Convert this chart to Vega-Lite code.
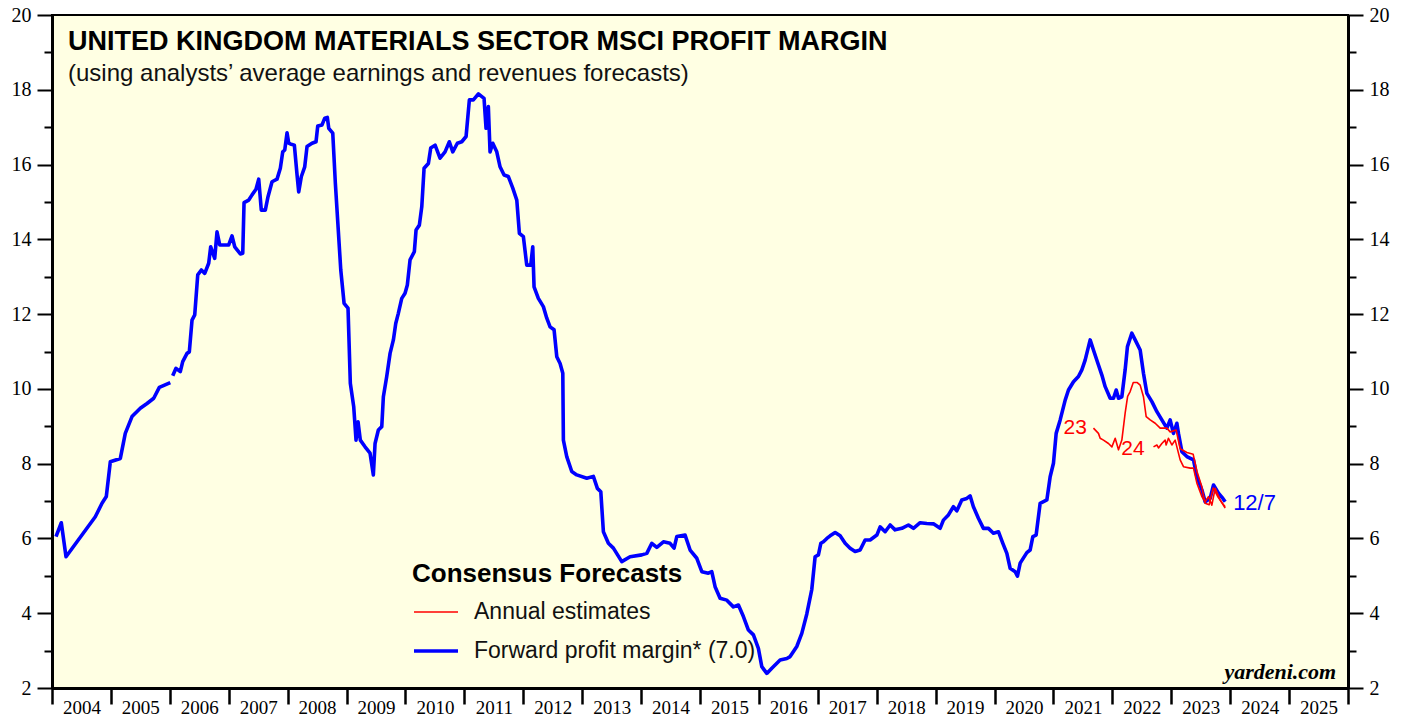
{
  "$schema": "https://vega.github.io/schema/vega-lite/v6.json",
  "width": 1296,
  "height": 673,
  "autosize": {"type": "none"},
  "padding": {"left": 52, "top": 15, "right": 59, "bottom": 29},
  "background": "white",
  "config": {
    "view": {"fill": "#FFFFE3", "stroke": "#000000", "strokeWidth": 2},
    "axis": {"grid": false, "domainColor": "#000000", "domainWidth": 3, "tickColor": "#000000", "tickWidth": 2, "labelColor": "#000000", "labelFont": "Liberation Serif", "labelFontSize": 20, "labelFlush": false, "labelOverlap": false, "labelBound": false, "title": null}
  },
  "title": {
    "text": "UNITED KINGDOM MATERIALS SECTOR MSCI PROFIT MARGIN",
    "subtitle": "(using analysts’ average earnings and revenues forecasts)",
    "anchor": "start", "frame": "group", "orient": "top", "offset": -82, "dx": 16,
    "font": "Liberation Sans", "fontSize": 27, "fontWeight": "bold", "color": "#000000",
    "subtitleFont": "Liberation Sans", "subtitleFontSize": 24, "subtitleColor": "#111111", "subtitlePadding": 6
  },
  "datasets": {
    "lines": [
      {"t": 2004.068, "v": 6.05, "series": "Forward profit margin* (7.0)", "line": "fwd"},
      {"t": 2004.158, "v": 6.42, "series": "Forward profit margin* (7.0)", "line": "fwd"},
      {"t": 2004.238, "v": 5.51, "series": "Forward profit margin* (7.0)", "line": "fwd"},
      {"t": 2004.735, "v": 6.58, "series": "Forward profit margin* (7.0)", "line": "fwd"},
      {"t": 2004.849, "v": 6.94, "series": "Forward profit margin* (7.0)", "line": "fwd"},
      {"t": 2004.922, "v": 7.12, "series": "Forward profit margin* (7.0)", "line": "fwd"},
      {"t": 2004.990, "v": 8.05, "series": "Forward profit margin* (7.0)", "line": "fwd"},
      {"t": 2005.160, "v": 8.14, "series": "Forward profit margin* (7.0)", "line": "fwd"},
      {"t": 2005.244, "v": 8.81, "series": "Forward profit margin* (7.0)", "line": "fwd"},
      {"t": 2005.358, "v": 9.26, "series": "Forward profit margin* (7.0)", "line": "fwd"},
      {"t": 2005.499, "v": 9.48, "series": "Forward profit margin* (7.0)", "line": "fwd"},
      {"t": 2005.613, "v": 9.61, "series": "Forward profit margin* (7.0)", "line": "fwd"},
      {"t": 2005.727, "v": 9.75, "series": "Forward profit margin* (7.0)", "line": "fwd"},
      {"t": 2005.822, "v": 10.04, "series": "Forward profit margin* (7.0)", "line": "fwd"},
      {"t": 2006.008, "v": 10.17, "series": "Forward profit margin* (7.0)", "line": "fwd"},
      {"t": 2006.030, "v": null, "series": "Forward profit margin* (7.0)", "line": "fwd"},
      {"t": 2006.049, "v": 10.35, "series": "Forward profit margin* (7.0)", "line": "fwd"},
      {"t": 2006.105, "v": 10.55, "series": "Forward profit margin* (7.0)", "line": "fwd"},
      {"t": 2006.178, "v": 10.46, "series": "Forward profit margin* (7.0)", "line": "fwd"},
      {"t": 2006.219, "v": 10.73, "series": "Forward profit margin* (7.0)", "line": "fwd"},
      {"t": 2006.292, "v": 10.95, "series": "Forward profit margin* (7.0)", "line": "fwd"},
      {"t": 2006.331, "v": 10.99, "series": "Forward profit margin* (7.0)", "line": "fwd"},
      {"t": 2006.377, "v": 11.84, "series": "Forward profit margin* (7.0)", "line": "fwd"},
      {"t": 2006.423, "v": 11.98, "series": "Forward profit margin* (7.0)", "line": "fwd"},
      {"t": 2006.474, "v": 13.05, "series": "Forward profit margin* (7.0)", "line": "fwd"},
      {"t": 2006.535, "v": 13.18, "series": "Forward profit margin* (7.0)", "line": "fwd"},
      {"t": 2006.593, "v": 13.09, "series": "Forward profit margin* (7.0)", "line": "fwd"},
      {"t": 2006.660, "v": 13.36, "series": "Forward profit margin* (7.0)", "line": "fwd"},
      {"t": 2006.694, "v": 13.80, "series": "Forward profit margin* (7.0)", "line": "fwd"},
      {"t": 2006.762, "v": 13.49, "series": "Forward profit margin* (7.0)", "line": "fwd"},
      {"t": 2006.801, "v": 14.20, "series": "Forward profit margin* (7.0)", "line": "fwd"},
      {"t": 2006.847, "v": 13.85, "series": "Forward profit margin* (7.0)", "line": "fwd"},
      {"t": 2007.000, "v": 13.85, "series": "Forward profit margin* (7.0)", "line": "fwd"},
      {"t": 2007.056, "v": 14.09, "series": "Forward profit margin* (7.0)", "line": "fwd"},
      {"t": 2007.102, "v": 13.80, "series": "Forward profit margin* (7.0)", "line": "fwd"},
      {"t": 2007.197, "v": 13.61, "series": "Forward profit margin* (7.0)", "line": "fwd"},
      {"t": 2007.238, "v": 13.63, "series": "Forward profit margin* (7.0)", "line": "fwd"},
      {"t": 2007.260, "v": 14.98, "series": "Forward profit margin* (7.0)", "line": "fwd"},
      {"t": 2007.340, "v": 15.05, "series": "Forward profit margin* (7.0)", "line": "fwd"},
      {"t": 2007.396, "v": 15.19, "series": "Forward profit margin* (7.0)", "line": "fwd"},
      {"t": 2007.463, "v": 15.34, "series": "Forward profit margin* (7.0)", "line": "fwd"},
      {"t": 2007.509, "v": 15.61, "series": "Forward profit margin* (7.0)", "line": "fwd"},
      {"t": 2007.553, "v": 14.78, "series": "Forward profit margin* (7.0)", "line": "fwd"},
      {"t": 2007.621, "v": 14.78, "series": "Forward profit margin* (7.0)", "line": "fwd"},
      {"t": 2007.667, "v": 15.14, "series": "Forward profit margin* (7.0)", "line": "fwd"},
      {"t": 2007.735, "v": 15.54, "series": "Forward profit margin* (7.0)", "line": "fwd"},
      {"t": 2007.820, "v": 15.61, "series": "Forward profit margin* (7.0)", "line": "fwd"},
      {"t": 2007.876, "v": 15.90, "series": "Forward profit margin* (7.0)", "line": "fwd"},
      {"t": 2007.917, "v": 16.34, "series": "Forward profit margin* (7.0)", "line": "fwd"},
      {"t": 2007.951, "v": 16.39, "series": "Forward profit margin* (7.0)", "line": "fwd"},
      {"t": 2007.990, "v": 16.85, "series": "Forward profit margin* (7.0)", "line": "fwd"},
      {"t": 2008.019, "v": 16.57, "series": "Forward profit margin* (7.0)", "line": "fwd"},
      {"t": 2008.046, "v": 16.55, "series": "Forward profit margin* (7.0)", "line": "fwd"},
      {"t": 2008.114, "v": 16.52, "series": "Forward profit margin* (7.0)", "line": "fwd"},
      {"t": 2008.160, "v": 15.72, "series": "Forward profit margin* (7.0)", "line": "fwd"},
      {"t": 2008.188, "v": 15.27, "series": "Forward profit margin* (7.0)", "line": "fwd"},
      {"t": 2008.233, "v": 15.68, "series": "Forward profit margin* (7.0)", "line": "fwd"},
      {"t": 2008.290, "v": 15.94, "series": "Forward profit margin* (7.0)", "line": "fwd"},
      {"t": 2008.329, "v": 16.48, "series": "Forward profit margin* (7.0)", "line": "fwd"},
      {"t": 2008.414, "v": 16.57, "series": "Forward profit margin* (7.0)", "line": "fwd"},
      {"t": 2008.482, "v": 16.61, "series": "Forward profit margin* (7.0)", "line": "fwd"},
      {"t": 2008.511, "v": 17.03, "series": "Forward profit margin* (7.0)", "line": "fwd"},
      {"t": 2008.584, "v": 17.06, "series": "Forward profit margin* (7.0)", "line": "fwd"},
      {"t": 2008.630, "v": 17.24, "series": "Forward profit margin* (7.0)", "line": "fwd"},
      {"t": 2008.674, "v": 17.26, "series": "Forward profit margin* (7.0)", "line": "fwd"},
      {"t": 2008.698, "v": 16.97, "series": "Forward profit margin* (7.0)", "line": "fwd"},
      {"t": 2008.766, "v": 16.84, "series": "Forward profit margin* (7.0)", "line": "fwd"},
      {"t": 2008.810, "v": 15.50, "series": "Forward profit margin* (7.0)", "line": "fwd"},
      {"t": 2008.856, "v": 14.34, "series": "Forward profit margin* (7.0)", "line": "fwd"},
      {"t": 2008.902, "v": 13.18, "series": "Forward profit margin* (7.0)", "line": "fwd"},
      {"t": 2008.958, "v": 12.29, "series": "Forward profit margin* (7.0)", "line": "fwd"},
      {"t": 2009.025, "v": 12.16, "series": "Forward profit margin* (7.0)", "line": "fwd"},
      {"t": 2009.064, "v": 10.15, "series": "Forward profit margin* (7.0)", "line": "fwd"},
      {"t": 2009.122, "v": 9.52, "series": "Forward profit margin* (7.0)", "line": "fwd"},
      {"t": 2009.161, "v": 8.63, "series": "Forward profit margin* (7.0)", "line": "fwd"},
      {"t": 2009.195, "v": 9.12, "series": "Forward profit margin* (7.0)", "line": "fwd"},
      {"t": 2009.234, "v": 8.63, "series": "Forward profit margin* (7.0)", "line": "fwd"},
      {"t": 2009.314, "v": 8.45, "series": "Forward profit margin* (7.0)", "line": "fwd"},
      {"t": 2009.399, "v": 8.28, "series": "Forward profit margin* (7.0)", "line": "fwd"},
      {"t": 2009.455, "v": 7.70, "series": "Forward profit margin* (7.0)", "line": "fwd"},
      {"t": 2009.484, "v": 8.54, "series": "Forward profit margin* (7.0)", "line": "fwd"},
      {"t": 2009.540, "v": 8.90, "series": "Forward profit margin* (7.0)", "line": "fwd"},
      {"t": 2009.598, "v": 8.99, "series": "Forward profit margin* (7.0)", "line": "fwd"},
      {"t": 2009.625, "v": 9.79, "series": "Forward profit margin* (7.0)", "line": "fwd"},
      {"t": 2009.682, "v": 10.33, "series": "Forward profit margin* (7.0)", "line": "fwd"},
      {"t": 2009.739, "v": 10.95, "series": "Forward profit margin* (7.0)", "line": "fwd"},
      {"t": 2009.795, "v": 11.31, "series": "Forward profit margin* (7.0)", "line": "fwd"},
      {"t": 2009.835, "v": 11.75, "series": "Forward profit margin* (7.0)", "line": "fwd"},
      {"t": 2009.879, "v": 12.02, "series": "Forward profit margin* (7.0)", "line": "fwd"},
      {"t": 2009.937, "v": 12.42, "series": "Forward profit margin* (7.0)", "line": "fwd"},
      {"t": 2009.993, "v": 12.56, "series": "Forward profit margin* (7.0)", "line": "fwd"},
      {"t": 2010.032, "v": 12.78, "series": "Forward profit margin* (7.0)", "line": "fwd"},
      {"t": 2010.078, "v": 13.45, "series": "Forward profit margin* (7.0)", "line": "fwd"},
      {"t": 2010.151, "v": 13.67, "series": "Forward profit margin* (7.0)", "line": "fwd"},
      {"t": 2010.180, "v": 14.25, "series": "Forward profit margin* (7.0)", "line": "fwd"},
      {"t": 2010.236, "v": 14.38, "series": "Forward profit margin* (7.0)", "line": "fwd"},
      {"t": 2010.277, "v": 14.87, "series": "Forward profit margin* (7.0)", "line": "fwd"},
      {"t": 2010.316, "v": 15.90, "series": "Forward profit margin* (7.0)", "line": "fwd"},
      {"t": 2010.389, "v": 16.03, "series": "Forward profit margin* (7.0)", "line": "fwd"},
      {"t": 2010.429, "v": 16.44, "series": "Forward profit margin* (7.0)", "line": "fwd"},
      {"t": 2010.503, "v": 16.52, "series": "Forward profit margin* (7.0)", "line": "fwd"},
      {"t": 2010.587, "v": 16.17, "series": "Forward profit margin* (7.0)", "line": "fwd"},
      {"t": 2010.672, "v": 16.34, "series": "Forward profit margin* (7.0)", "line": "fwd"},
      {"t": 2010.745, "v": 16.61, "series": "Forward profit margin* (7.0)", "line": "fwd"},
      {"t": 2010.803, "v": 16.34, "series": "Forward profit margin* (7.0)", "line": "fwd"},
      {"t": 2010.881, "v": 16.57, "series": "Forward profit margin* (7.0)", "line": "fwd"},
      {"t": 2010.956, "v": 16.61, "series": "Forward profit margin* (7.0)", "line": "fwd"},
      {"t": 2011.029, "v": 16.75, "series": "Forward profit margin* (7.0)", "line": "fwd"},
      {"t": 2011.085, "v": 17.73, "series": "Forward profit margin* (7.0)", "line": "fwd"},
      {"t": 2011.153, "v": 17.73, "series": "Forward profit margin* (7.0)", "line": "fwd"},
      {"t": 2011.238, "v": 17.89, "series": "Forward profit margin* (7.0)", "line": "fwd"},
      {"t": 2011.334, "v": 17.77, "series": "Forward profit margin* (7.0)", "line": "fwd"},
      {"t": 2011.368, "v": 16.97, "series": "Forward profit margin* (7.0)", "line": "fwd"},
      {"t": 2011.407, "v": 17.55, "series": "Forward profit margin* (7.0)", "line": "fwd"},
      {"t": 2011.436, "v": 16.34, "series": "Forward profit margin* (7.0)", "line": "fwd"},
      {"t": 2011.482, "v": 16.57, "series": "Forward profit margin* (7.0)", "line": "fwd"},
      {"t": 2011.550, "v": 16.34, "series": "Forward profit margin* (7.0)", "line": "fwd"},
      {"t": 2011.606, "v": 15.94, "series": "Forward profit margin* (7.0)", "line": "fwd"},
      {"t": 2011.674, "v": 15.72, "series": "Forward profit margin* (7.0)", "line": "fwd"},
      {"t": 2011.747, "v": 15.68, "series": "Forward profit margin* (7.0)", "line": "fwd"},
      {"t": 2011.822, "v": 15.37, "series": "Forward profit margin* (7.0)", "line": "fwd"},
      {"t": 2011.890, "v": 15.05, "series": "Forward profit margin* (7.0)", "line": "fwd"},
      {"t": 2011.934, "v": 14.16, "series": "Forward profit margin* (7.0)", "line": "fwd"},
      {"t": 2012.002, "v": 14.07, "series": "Forward profit margin* (7.0)", "line": "fwd"},
      {"t": 2012.059, "v": 13.31, "series": "Forward profit margin* (7.0)", "line": "fwd"},
      {"t": 2012.127, "v": 13.31, "series": "Forward profit margin* (7.0)", "line": "fwd"},
      {"t": 2012.161, "v": 13.80, "series": "Forward profit margin* (7.0)", "line": "fwd"},
      {"t": 2012.183, "v": 12.73, "series": "Forward profit margin* (7.0)", "line": "fwd"},
      {"t": 2012.256, "v": 12.42, "series": "Forward profit margin* (7.0)", "line": "fwd"},
      {"t": 2012.341, "v": 12.20, "series": "Forward profit margin* (7.0)", "line": "fwd"},
      {"t": 2012.399, "v": 11.89, "series": "Forward profit margin* (7.0)", "line": "fwd"},
      {"t": 2012.455, "v": 11.66, "series": "Forward profit margin* (7.0)", "line": "fwd"},
      {"t": 2012.523, "v": 11.58, "series": "Forward profit margin* (7.0)", "line": "fwd"},
      {"t": 2012.569, "v": 10.86, "series": "Forward profit margin* (7.0)", "line": "fwd"},
      {"t": 2012.625, "v": 10.68, "series": "Forward profit margin* (7.0)", "line": "fwd"},
      {"t": 2012.671, "v": 10.42, "series": "Forward profit margin* (7.0)", "line": "fwd"},
      {"t": 2012.681, "v": 8.63, "series": "Forward profit margin* (7.0)", "line": "fwd"},
      {"t": 2012.738, "v": 8.19, "series": "Forward profit margin* (7.0)", "line": "fwd"},
      {"t": 2012.823, "v": 7.79, "series": "Forward profit margin* (7.0)", "line": "fwd"},
      {"t": 2012.908, "v": 7.70, "series": "Forward profit margin* (7.0)", "line": "fwd"},
      {"t": 2013.078, "v": 7.61, "series": "Forward profit margin* (7.0)", "line": "fwd"},
      {"t": 2013.190, "v": 7.66, "series": "Forward profit margin* (7.0)", "line": "fwd"},
      {"t": 2013.258, "v": 7.34, "series": "Forward profit margin* (7.0)", "line": "fwd"},
      {"t": 2013.316, "v": 7.25, "series": "Forward profit margin* (7.0)", "line": "fwd"},
      {"t": 2013.360, "v": 6.18, "series": "Forward profit margin* (7.0)", "line": "fwd"},
      {"t": 2013.445, "v": 5.87, "series": "Forward profit margin* (7.0)", "line": "fwd"},
      {"t": 2013.530, "v": 5.74, "series": "Forward profit margin* (7.0)", "line": "fwd"},
      {"t": 2013.672, "v": 5.38, "series": "Forward profit margin* (7.0)", "line": "fwd"},
      {"t": 2013.813, "v": 5.51, "series": "Forward profit margin* (7.0)", "line": "fwd"},
      {"t": 2014.012, "v": 5.56, "series": "Forward profit margin* (7.0)", "line": "fwd"},
      {"t": 2014.097, "v": 5.60, "series": "Forward profit margin* (7.0)", "line": "fwd"},
      {"t": 2014.182, "v": 5.87, "series": "Forward profit margin* (7.0)", "line": "fwd"},
      {"t": 2014.267, "v": 5.76, "series": "Forward profit margin* (7.0)", "line": "fwd"},
      {"t": 2014.379, "v": 5.91, "series": "Forward profit margin* (7.0)", "line": "fwd"},
      {"t": 2014.492, "v": 5.87, "series": "Forward profit margin* (7.0)", "line": "fwd"},
      {"t": 2014.560, "v": 5.74, "series": "Forward profit margin* (7.0)", "line": "fwd"},
      {"t": 2014.606, "v": 6.05, "series": "Forward profit margin* (7.0)", "line": "fwd"},
      {"t": 2014.747, "v": 6.09, "series": "Forward profit margin* (7.0)", "line": "fwd"},
      {"t": 2014.832, "v": 5.69, "series": "Forward profit margin* (7.0)", "line": "fwd"},
      {"t": 2014.946, "v": 5.47, "series": "Forward profit margin* (7.0)", "line": "fwd"},
      {"t": 2015.031, "v": 5.11, "series": "Forward profit margin* (7.0)", "line": "fwd"},
      {"t": 2015.142, "v": 5.07, "series": "Forward profit margin* (7.0)", "line": "fwd"},
      {"t": 2015.200, "v": 5.11, "series": "Forward profit margin* (7.0)", "line": "fwd"},
      {"t": 2015.256, "v": 4.71, "series": "Forward profit margin* (7.0)", "line": "fwd"},
      {"t": 2015.341, "v": 4.40, "series": "Forward profit margin* (7.0)", "line": "fwd"},
      {"t": 2015.455, "v": 4.35, "series": "Forward profit margin* (7.0)", "line": "fwd"},
      {"t": 2015.567, "v": 4.17, "series": "Forward profit margin* (7.0)", "line": "fwd"},
      {"t": 2015.652, "v": 4.22, "series": "Forward profit margin* (7.0)", "line": "fwd"},
      {"t": 2015.737, "v": 3.91, "series": "Forward profit margin* (7.0)", "line": "fwd"},
      {"t": 2015.822, "v": 3.55, "series": "Forward profit margin* (7.0)", "line": "fwd"},
      {"t": 2015.907, "v": 3.42, "series": "Forward profit margin* (7.0)", "line": "fwd"},
      {"t": 2015.991, "v": 3.06, "series": "Forward profit margin* (7.0)", "line": "fwd"},
      {"t": 2016.049, "v": 2.57, "series": "Forward profit margin* (7.0)", "line": "fwd"},
      {"t": 2016.134, "v": 2.39, "series": "Forward profit margin* (7.0)", "line": "fwd"},
      {"t": 2016.219, "v": 2.53, "series": "Forward profit margin* (7.0)", "line": "fwd"},
      {"t": 2016.360, "v": 2.75, "series": "Forward profit margin* (7.0)", "line": "fwd"},
      {"t": 2016.474, "v": 2.79, "series": "Forward profit margin* (7.0)", "line": "fwd"},
      {"t": 2016.530, "v": 2.84, "series": "Forward profit margin* (7.0)", "line": "fwd"},
      {"t": 2016.643, "v": 3.11, "series": "Forward profit margin* (7.0)", "line": "fwd"},
      {"t": 2016.728, "v": 3.46, "series": "Forward profit margin* (7.0)", "line": "fwd"},
      {"t": 2016.813, "v": 3.98, "series": "Forward profit margin* (7.0)", "line": "fwd"},
      {"t": 2016.898, "v": 4.64, "series": "Forward profit margin* (7.0)", "line": "fwd"},
      {"t": 2016.954, "v": 5.51, "series": "Forward profit margin* (7.0)", "line": "fwd"},
      {"t": 2017.010, "v": 5.56, "series": "Forward profit margin* (7.0)", "line": "fwd"},
      {"t": 2017.051, "v": 5.87, "series": "Forward profit margin* (7.0)", "line": "fwd"},
      {"t": 2017.095, "v": 5.91, "series": "Forward profit margin* (7.0)", "line": "fwd"},
      {"t": 2017.153, "v": 6.00, "series": "Forward profit margin* (7.0)", "line": "fwd"},
      {"t": 2017.209, "v": 6.07, "series": "Forward profit margin* (7.0)", "line": "fwd"},
      {"t": 2017.294, "v": 6.16, "series": "Forward profit margin* (7.0)", "line": "fwd"},
      {"t": 2017.379, "v": 6.07, "series": "Forward profit margin* (7.0)", "line": "fwd"},
      {"t": 2017.464, "v": 5.87, "series": "Forward profit margin* (7.0)", "line": "fwd"},
      {"t": 2017.548, "v": 5.74, "series": "Forward profit margin* (7.0)", "line": "fwd"},
      {"t": 2017.633, "v": 5.65, "series": "Forward profit margin* (7.0)", "line": "fwd"},
      {"t": 2017.718, "v": 5.69, "series": "Forward profit margin* (7.0)", "line": "fwd"},
      {"t": 2017.803, "v": 5.96, "series": "Forward profit margin* (7.0)", "line": "fwd"},
      {"t": 2017.888, "v": 5.96, "series": "Forward profit margin* (7.0)", "line": "fwd"},
      {"t": 2018.002, "v": 6.09, "series": "Forward profit margin* (7.0)", "line": "fwd"},
      {"t": 2018.058, "v": 6.31, "series": "Forward profit margin* (7.0)", "line": "fwd"},
      {"t": 2018.143, "v": 6.18, "series": "Forward profit margin* (7.0)", "line": "fwd"},
      {"t": 2018.228, "v": 6.36, "series": "Forward profit margin* (7.0)", "line": "fwd"},
      {"t": 2018.312, "v": 6.23, "series": "Forward profit margin* (7.0)", "line": "fwd"},
      {"t": 2018.426, "v": 6.27, "series": "Forward profit margin* (7.0)", "line": "fwd"},
      {"t": 2018.538, "v": 6.36, "series": "Forward profit margin* (7.0)", "line": "fwd"},
      {"t": 2018.623, "v": 6.27, "series": "Forward profit margin* (7.0)", "line": "fwd"},
      {"t": 2018.737, "v": 6.42, "series": "Forward profit margin* (7.0)", "line": "fwd"},
      {"t": 2018.850, "v": 6.40, "series": "Forward profit margin* (7.0)", "line": "fwd"},
      {"t": 2018.963, "v": 6.39, "series": "Forward profit margin* (7.0)", "line": "fwd"},
      {"t": 2019.076, "v": 6.27, "series": "Forward profit margin* (7.0)", "line": "fwd"},
      {"t": 2019.132, "v": 6.49, "series": "Forward profit margin* (7.0)", "line": "fwd"},
      {"t": 2019.217, "v": 6.63, "series": "Forward profit margin* (7.0)", "line": "fwd"},
      {"t": 2019.302, "v": 6.85, "series": "Forward profit margin* (7.0)", "line": "fwd"},
      {"t": 2019.360, "v": 6.74, "series": "Forward profit margin* (7.0)", "line": "fwd"},
      {"t": 2019.444, "v": 7.03, "series": "Forward profit margin* (7.0)", "line": "fwd"},
      {"t": 2019.529, "v": 7.07, "series": "Forward profit margin* (7.0)", "line": "fwd"},
      {"t": 2019.585, "v": 7.14, "series": "Forward profit margin* (7.0)", "line": "fwd"},
      {"t": 2019.641, "v": 6.85, "series": "Forward profit margin* (7.0)", "line": "fwd"},
      {"t": 2019.726, "v": 6.54, "series": "Forward profit margin* (7.0)", "line": "fwd"},
      {"t": 2019.811, "v": 6.27, "series": "Forward profit margin* (7.0)", "line": "fwd"},
      {"t": 2019.896, "v": 6.27, "series": "Forward profit margin* (7.0)", "line": "fwd"},
      {"t": 2019.981, "v": 6.14, "series": "Forward profit margin* (7.0)", "line": "fwd"},
      {"t": 2020.066, "v": 6.18, "series": "Forward profit margin* (7.0)", "line": "fwd"},
      {"t": 2020.141, "v": 5.87, "series": "Forward profit margin* (7.0)", "line": "fwd"},
      {"t": 2020.209, "v": 5.60, "series": "Forward profit margin* (7.0)", "line": "fwd"},
      {"t": 2020.265, "v": 5.20, "series": "Forward profit margin* (7.0)", "line": "fwd"},
      {"t": 2020.350, "v": 5.11, "series": "Forward profit margin* (7.0)", "line": "fwd"},
      {"t": 2020.389, "v": 4.99, "series": "Forward profit margin* (7.0)", "line": "fwd"},
      {"t": 2020.435, "v": 5.34, "series": "Forward profit margin* (7.0)", "line": "fwd"},
      {"t": 2020.548, "v": 5.62, "series": "Forward profit margin* (7.0)", "line": "fwd"},
      {"t": 2020.604, "v": 5.69, "series": "Forward profit margin* (7.0)", "line": "fwd"},
      {"t": 2020.650, "v": 6.05, "series": "Forward profit margin* (7.0)", "line": "fwd"},
      {"t": 2020.706, "v": 6.09, "series": "Forward profit margin* (7.0)", "line": "fwd"},
      {"t": 2020.774, "v": 6.94, "series": "Forward profit margin* (7.0)", "line": "fwd"},
      {"t": 2020.888, "v": 7.03, "series": "Forward profit margin* (7.0)", "line": "fwd"},
      {"t": 2020.944, "v": 7.65, "series": "Forward profit margin* (7.0)", "line": "fwd"},
      {"t": 2021.000, "v": 8.01, "series": "Forward profit margin* (7.0)", "line": "fwd"},
      {"t": 2021.046, "v": 8.81, "series": "Forward profit margin* (7.0)", "line": "fwd"},
      {"t": 2021.114, "v": 9.17, "series": "Forward profit margin* (7.0)", "line": "fwd"},
      {"t": 2021.199, "v": 9.70, "series": "Forward profit margin* (7.0)", "line": "fwd"},
      {"t": 2021.255, "v": 9.97, "series": "Forward profit margin* (7.0)", "line": "fwd"},
      {"t": 2021.340, "v": 10.19, "series": "Forward profit margin* (7.0)", "line": "fwd"},
      {"t": 2021.424, "v": 10.33, "series": "Forward profit margin* (7.0)", "line": "fwd"},
      {"t": 2021.482, "v": 10.51, "series": "Forward profit margin* (7.0)", "line": "fwd"},
      {"t": 2021.538, "v": 10.77, "series": "Forward profit margin* (7.0)", "line": "fwd"},
      {"t": 2021.623, "v": 11.31, "series": "Forward profit margin* (7.0)", "line": "fwd"},
      {"t": 2021.679, "v": 11.04, "series": "Forward profit margin* (7.0)", "line": "fwd"},
      {"t": 2021.764, "v": 10.64, "series": "Forward profit margin* (7.0)", "line": "fwd"},
      {"t": 2021.822, "v": 10.37, "series": "Forward profit margin* (7.0)", "line": "fwd"},
      {"t": 2021.878, "v": 10.06, "series": "Forward profit margin* (7.0)", "line": "fwd"},
      {"t": 2021.963, "v": 9.75, "series": "Forward profit margin* (7.0)", "line": "fwd"},
      {"t": 2022.019, "v": 9.75, "series": "Forward profit margin* (7.0)", "line": "fwd"},
      {"t": 2022.065, "v": 9.97, "series": "Forward profit margin* (7.0)", "line": "fwd"},
      {"t": 2022.104, "v": 9.75, "series": "Forward profit margin* (7.0)", "line": "fwd"},
      {"t": 2022.161, "v": 9.79, "series": "Forward profit margin* (7.0)", "line": "fwd"},
      {"t": 2022.217, "v": 10.51, "series": "Forward profit margin* (7.0)", "line": "fwd"},
      {"t": 2022.256, "v": 11.13, "series": "Forward profit margin* (7.0)", "line": "fwd"},
      {"t": 2022.331, "v": 11.49, "series": "Forward profit margin* (7.0)", "line": "fwd"},
      {"t": 2022.387, "v": 11.31, "series": "Forward profit margin* (7.0)", "line": "fwd"},
      {"t": 2022.472, "v": 11.04, "series": "Forward profit margin* (7.0)", "line": "fwd"},
      {"t": 2022.528, "v": 10.42, "series": "Forward profit margin* (7.0)", "line": "fwd"},
      {"t": 2022.586, "v": 9.88, "series": "Forward profit margin* (7.0)", "line": "fwd"},
      {"t": 2022.671, "v": 9.66, "series": "Forward profit margin* (7.0)", "line": "fwd"},
      {"t": 2022.756, "v": 9.39, "series": "Forward profit margin* (7.0)", "line": "fwd"},
      {"t": 2022.840, "v": 9.17, "series": "Forward profit margin* (7.0)", "line": "fwd"},
      {"t": 2022.925, "v": 8.95, "series": "Forward profit margin* (7.0)", "line": "fwd"},
      {"t": 2022.981, "v": 9.17, "series": "Forward profit margin* (7.0)", "line": "fwd"},
      {"t": 2023.037, "v": 8.81, "series": "Forward profit margin* (7.0)", "line": "fwd"},
      {"t": 2023.095, "v": 9.08, "series": "Forward profit margin* (7.0)", "line": "fwd"},
      {"t": 2023.122, "v": 8.81, "series": "Forward profit margin* (7.0)", "line": "fwd"},
      {"t": 2023.180, "v": 8.32, "series": "Forward profit margin* (7.0)", "line": "fwd"},
      {"t": 2023.265, "v": 8.19, "series": "Forward profit margin* (7.0)", "line": "fwd"},
      {"t": 2023.377, "v": 8.10, "series": "Forward profit margin* (7.0)", "line": "fwd"},
      {"t": 2023.435, "v": 7.65, "series": "Forward profit margin* (7.0)", "line": "fwd"},
      {"t": 2023.519, "v": 7.30, "series": "Forward profit margin* (7.0)", "line": "fwd"},
      {"t": 2023.575, "v": 6.98, "series": "Forward profit margin* (7.0)", "line": "fwd"},
      {"t": 2023.660, "v": 7.07, "series": "Forward profit margin* (7.0)", "line": "fwd"},
      {"t": 2023.717, "v": 7.43, "series": "Forward profit margin* (7.0)", "line": "fwd"},
      {"t": 2023.801, "v": 7.21, "series": "Forward profit margin* (7.0)", "line": "fwd"},
      {"t": 2023.876, "v": 7.07, "series": "Forward profit margin* (7.0)", "line": "fwd"},
      {"t": 2023.915, "v": 6.98, "series": "Forward profit margin* (7.0)", "line": "fwd"},
      {"t": 2021.679, "v": 8.95, "series": "Annual estimates", "line": "23"},
      {"t": 2021.764, "v": 8.81, "series": "Annual estimates", "line": "23"},
      {"t": 2021.793, "v": 8.68, "series": "Annual estimates", "line": "23"},
      {"t": 2021.849, "v": 8.63, "series": "Annual estimates", "line": "23"},
      {"t": 2021.934, "v": 8.54, "series": "Annual estimates", "line": "23"},
      {"t": 2021.992, "v": 8.45, "series": "Annual estimates", "line": "23"},
      {"t": 2022.048, "v": 8.68, "series": "Annual estimates", "line": "23"},
      {"t": 2022.104, "v": 8.37, "series": "Annual estimates", "line": "23"},
      {"t": 2022.161, "v": 8.63, "series": "Annual estimates", "line": "23"},
      {"t": 2022.217, "v": 9.35, "series": "Annual estimates", "line": "23"},
      {"t": 2022.259, "v": 9.80, "series": "Annual estimates", "line": "23"},
      {"t": 2022.302, "v": 9.93, "series": "Annual estimates", "line": "23"},
      {"t": 2022.355, "v": 10.17, "series": "Annual estimates", "line": "23"},
      {"t": 2022.423, "v": 10.17, "series": "Annual estimates", "line": "23"},
      {"t": 2022.472, "v": 10.10, "series": "Annual estimates", "line": "23"},
      {"t": 2022.528, "v": 9.79, "series": "Annual estimates", "line": "23"},
      {"t": 2022.574, "v": 9.26, "series": "Annual estimates", "line": "23"},
      {"t": 2022.642, "v": 9.17, "series": "Annual estimates", "line": "23"},
      {"t": 2022.727, "v": 9.08, "series": "Annual estimates", "line": "23"},
      {"t": 2022.812, "v": 8.95, "series": "Annual estimates", "line": "23"},
      {"t": 2022.925, "v": 8.95, "series": "Annual estimates", "line": "23"},
      {"t": 2022.981, "v": 8.85, "series": "Annual estimates", "line": "23"},
      {"t": 2023.083, "v": 8.90, "series": "Annual estimates", "line": "23"},
      {"t": 2023.151, "v": 8.40, "series": "Annual estimates", "line": "23"},
      {"t": 2023.265, "v": 8.30, "series": "Annual estimates", "line": "23"},
      {"t": 2023.372, "v": 8.25, "series": "Annual estimates", "line": "23"},
      {"t": 2023.435, "v": 7.80, "series": "Annual estimates", "line": "23"},
      {"t": 2023.519, "v": 7.38, "series": "Annual estimates", "line": "23"},
      {"t": 2023.575, "v": 6.94, "series": "Annual estimates", "line": "23"},
      {"t": 2023.643, "v": 6.90, "series": "Annual estimates", "line": "23"},
      {"t": 2023.711, "v": 7.35, "series": "Annual estimates", "line": "23"},
      {"t": 2023.796, "v": 7.10, "series": "Annual estimates", "line": "23"},
      {"t": 2023.864, "v": 6.95, "series": "Annual estimates", "line": "23"},
      {"t": 2023.915, "v": 6.85, "series": "Annual estimates", "line": "23"},
      {"t": 2022.698, "v": 8.45, "series": "Annual estimates", "line": "24"},
      {"t": 2022.756, "v": 8.50, "series": "Annual estimates", "line": "24"},
      {"t": 2022.783, "v": 8.42, "series": "Annual estimates", "line": "24"},
      {"t": 2022.840, "v": 8.54, "series": "Annual estimates", "line": "24"},
      {"t": 2022.896, "v": 8.63, "series": "Annual estimates", "line": "24"},
      {"t": 2022.913, "v": 8.50, "series": "Annual estimates", "line": "24"},
      {"t": 2022.952, "v": 8.68, "series": "Annual estimates", "line": "24"},
      {"t": 2023.010, "v": 8.50, "series": "Annual estimates", "line": "24"},
      {"t": 2023.066, "v": 8.63, "series": "Annual estimates", "line": "24"},
      {"t": 2023.095, "v": 8.45, "series": "Annual estimates", "line": "24"},
      {"t": 2023.151, "v": 8.10, "series": "Annual estimates", "line": "24"},
      {"t": 2023.207, "v": 7.92, "series": "Annual estimates", "line": "24"},
      {"t": 2023.321, "v": 7.88, "series": "Annual estimates", "line": "24"},
      {"t": 2023.377, "v": 7.88, "series": "Annual estimates", "line": "24"},
      {"t": 2023.435, "v": 7.48, "series": "Annual estimates", "line": "24"},
      {"t": 2023.519, "v": 7.12, "series": "Annual estimates", "line": "24"},
      {"t": 2023.575, "v": 6.98, "series": "Annual estimates", "line": "24"},
      {"t": 2023.631, "v": 7.12, "series": "Annual estimates", "line": "24"},
      {"t": 2023.689, "v": 6.89, "series": "Annual estimates", "line": "24"},
      {"t": 2023.745, "v": 7.34, "series": "Annual estimates", "line": "24"},
      {"t": 2023.830, "v": 7.03, "series": "Annual estimates", "line": "24"},
      {"t": 2023.915, "v": 6.81, "series": "Annual estimates", "line": "24"}
    ],
    "estLabels": [
      {"t": 2021.37, "v": 8.95, "label": "23"},
      {"t": 2022.35, "v": 8.4, "label": "24"}
    ],
    "endLabel": [
      {"t": 2024.05, "v": 6.95, "label": "12/7"}
    ],
    "source": [
      {"t": 2025.80, "v": 2.24, "label": "yardeni.com"}
    ]
  },
  "encoding": {
    "x": {
      "field": "t", "type": "quantitative",
      "scale": {"domain": [2004, 2026], "nice": false, "zero": false},
      "axis": {
        "orient": "bottom",
        "values": [2004,2005,2006,2007,2008,2009,2010,2011,2012,2013,2014,2015,2016,2017,2018,2019,2020,2021,2022,2023,2024,2025,2026],
        "format": "d",
        "labelExpr": "datum.value >= 2026 ? '' : datum.label",
        "labelFontSize": 19,
        "tickSize": 16, "tickWidth": 2.5, "labelOffset": 29.45, "labelPadding": -6, "labelBaseline": "top"
      }
    }
  },
  "resolve": {"axis": {"y": "independent"}},
  "layer": [
    {
      "data": {"name": "lines"},
      "mark": {"type": "line", "invalid": "break-paths-show-domains", "strokeJoin": "round"},
      "encoding": {
        "y": {
          "field": "v", "type": "quantitative",
          "scale": {"domain": [2, 20], "nice": false, "zero": false},
          "axis": {
            "orient": "left",
            "values": [2,3,4,5,6,7,8,9,10,11,12,13,14,15,16,17,18,19,20],
            "labelExpr": "datum.value % 2 == 0 ? datum.label : ''",
            "tickSize": {"condition": {"test": "datum.value % 2 == 1", "value": 8}, "value": 15},
            "labelPadding": 6
          }
        },
        "color": {
          "field": "series", "type": "nominal",
          "scale": {"domain": ["Annual estimates", "Forward profit margin* (7.0)"], "range": ["#FF0000", "#0000FF"]},
          "legend": {
            "title": "Consensus Forecasts", "orient": "none", "legendX": 360, "legendY": 546,
            "titleFont": "Liberation Sans", "titleFontSize": 26, "titleFontWeight": "bold", "titleColor": "#000000", "titlePadding": 2, "titleLimit": 0,
            "labelFont": "Liberation Sans", "labelFontSize": 23, "labelColor": "#111111", "labelOffset": 14, "labelLimit": 0,
            "symbolType": "stroke", "symbolSize": 1936, "rowPadding": 3
          }
        },
        "strokeWidth": {
          "field": "series", "type": "ordinal",
          "scale": {"domain": ["Annual estimates", "Forward profit margin* (7.0)"], "range": [1.6, 3.6]},
          "legend": {"title": "Consensus Forecasts"}
        },
        "detail": {"field": "line"},
        "order": {"field": "line", "sort": "descending"}
      }
    },
    {
      "data": {"name": "estLabels"},
      "mark": {"type": "text", "font": "Liberation Sans", "fontSize": 21, "color": "#FF0000", "align": "center", "baseline": "middle"},
      "encoding": {
        "y": {
          "field": "v", "type": "quantitative",
          "scale": {"domain": [2, 20], "nice": false, "zero": false},
          "axis": {
            "orient": "right",
            "values": [2,3,4,5,6,7,8,9,10,11,12,13,14,15,16,17,18,19,20],
            "labelExpr": "datum.value % 2 == 0 ? datum.label : ''",
            "tickSize": {"condition": {"test": "datum.value % 2 == 1", "value": 8}, "value": 15},
            "labelPadding": 6
          }
        },
        "text": {"field": "label"}
      }
    },
    {
      "data": {"name": "endLabel"},
      "mark": {"type": "text", "font": "Liberation Sans", "fontSize": 22, "color": "#0000FF", "align": "left", "baseline": "middle"},
      "encoding": {
        "y": {"field": "v", "type": "quantitative", "scale": {"domain": [2, 20], "nice": false, "zero": false}, "axis": null},
        "text": {"field": "label"}
      }
    },
    {
      "data": {"name": "source"},
      "mark": {"type": "text", "font": "Liberation Serif", "fontSize": 22, "fontWeight": "bold", "fontStyle": "italic", "color": "#000000", "align": "right", "baseline": "alphabetic"},
      "encoding": {
        "y": {"field": "v", "type": "quantitative", "scale": {"domain": [2, 20], "nice": false, "zero": false}, "axis": null},
        "text": {"field": "label"}
      }
    }
  ]
}
